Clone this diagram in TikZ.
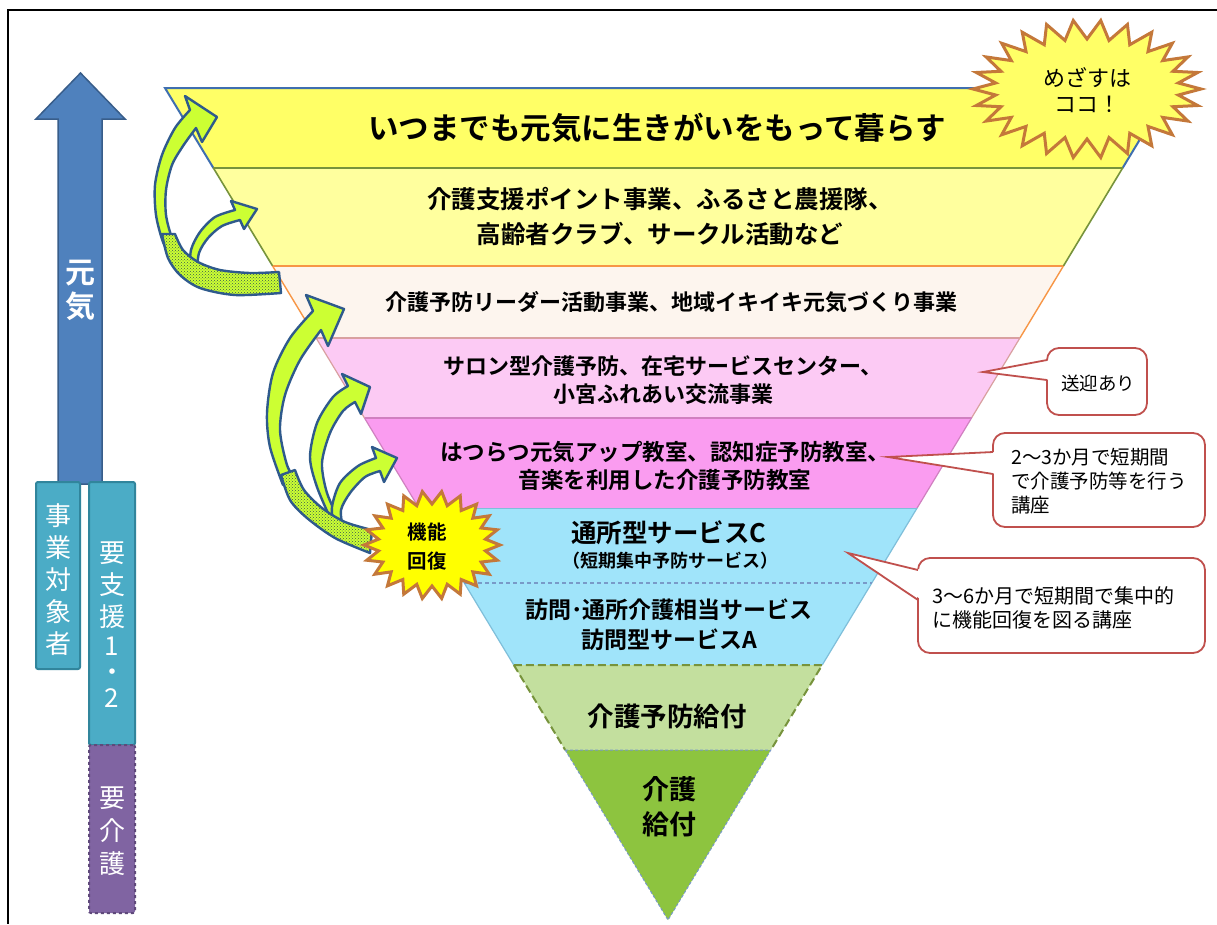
\documentclass[tikz,border=0pt]{standalone}
\usepackage{fontspec}
\setmainfont{Noto Sans CJK JP}[BoldFont={Noto Sans CJK JP Bold}]
\usetikzlibrary{patterns,calc}
\definecolor{bandA}{HTML}{FFFF66}
\definecolor{bandB}{HTML}{FFFF9E}
\definecolor{bandC}{HTML}{FDF5EE}
\definecolor{bandD}{HTML}{FCCAF4}
\definecolor{bandE}{HTML}{FA9CF0}
\definecolor{bandF}{HTML}{A0E4FA}
\definecolor{bandG}{HTML}{C3DF9E}
\definecolor{bandH}{HTML}{8DC43F}
\definecolor{lnblue}{HTML}{3F6FB0}
\definecolor{lnolive}{HTML}{77933C}
\definecolor{lnorange}{HTML}{F79646}
\definecolor{lnpink}{HTML}{D9A0A0}
\definecolor{lnmag}{HTML}{D080C0}
\definecolor{lncyan}{HTML}{7FBFDA}
\definecolor{arrowblue}{HTML}{4F81BD}
\definecolor{arrowblueD}{HTML}{385D8A}
\definecolor{tealF}{HTML}{4BACC6}
\definecolor{tealD}{HTML}{31859C}
\definecolor{purpF}{HTML}{8064A2}
\definecolor{purpD}{HTML}{5F497A}
\definecolor{limeF}{HTML}{CCFF33}
\definecolor{limeD}{HTML}{2F5A8C}
\definecolor{dotcol}{HTML}{3A5A50}
\definecolor{burstD}{HTML}{C4783A}
\definecolor{burstA}{HTML}{FFFF66}
\definecolor{burstB}{HTML}{FFFF00}
\definecolor{callred}{HTML}{C0504D}
\begin{document}
\begin{tikzpicture}[x=1pt,y=-1pt,
  bandtext/.style={font=\bfseries, align=center, text=black, inner sep=0},
  whitetext/.style={text=white, align=center, inner sep=0},
  callbox/.style={draw=callred, line width=1.8, fill=white, rounded corners=12},
  callline/.style={draw=callred, line width=1.8, line join=miter},
  calltext/.style={align=left, inner sep=0, anchor=west},
  garrow/.style={fill=limeF, draw=limeD, line width=2.4, line join=round},
  ribbon/.style={preaction={fill=limeF}, pattern=crosshatch dots, pattern color=dotcol, draw=limeD, line width=2.4, line join=round},
  tealbox/.style={fill=tealF, draw=tealD, line width=2, rounded corners=2, inner sep=0},
  purpbox/.style={fill=purpF, draw=purpD, line width=2, dashed, rounded corners=2, inner sep=0}
]
\useasboundingbox (0,0) rectangle (1217,924);
\fill[white] (0,0) rectangle (1217,924);
\draw[line width=2] (1217,10) -- (8,10) -- (8,924);

% ---------- left indicator ----------
\filldraw[fill=arrowblue, draw=arrowblueD, line width=1.5] (58,484) -- (58,119) -- (36,119) -- (80.5,73) -- (125,119) -- (102,119) -- (102,484) -- cycle;
\node[whitetext, font=\bfseries\fontsize{30}{34}\selectfont] (genki) at (80,290) {元\\気};
\node[tealbox, minimum width=44, minimum height=187] (jigyo) at (58,575.5) {};
\node[tealbox, minimum width=46, minimum height=263] (yoshien) at (112,613.5) {};
\node[purpbox, minimum width=46, minimum height=168] (yokaigo) at (112,829) {};
\node[whitetext, font=\fontsize{26}{32}\selectfont] (jigyoT) at (58,580) {事\\業\\対\\象\\者};
\node[whitetext, font=\fontsize{26}{32}\selectfont] (yoshienT) at (112,625) {要\\支\\援\\[-3pt]1\\[-6pt]・\\[-6pt]2};
\node[whitetext, font=\fontsize{26}{33}\selectfont] (yokaigoT) at (112,831) {要\\介\\護};

% ---------- pyramid bands ----------
\fill[bandA] (165,88) -- (1171,88) -- (1122.6,168) -- (213.4,168) -- cycle;
\fill[bandB] (213.4,168) -- (1122.6,168) -- (1063.4,266) -- (272.6,266) -- cycle;
\fill[bandC] (272.6,266) -- (1063.4,266) -- (1019.9,338) -- (316.1,338) -- cycle;
\fill[bandD] (316.1,338) -- (1019.9,338) -- (971.5,418) -- (364.5,418) -- cycle;
\fill[bandE] (364.5,418) -- (971.5,418) -- (917.1,508) -- (418.9,508) -- cycle;
\fill[bandF] (418.9,508) -- (917.1,508) -- (822.2,665) -- (513.8,665) -- cycle;
\fill[bandG] (513.8,665) -- (822.2,665) -- (770.8,750) -- (565.2,750) -- cycle;
\fill[bandH] (565.2,750) -- (770.8,750) -- (668,920) -- cycle;

% band borders
\draw[lnblue, line width=2] (213.4,168) -- (165,88) -- (1171,88) -- (1122.6,168);
\draw[lnolive, line width=2] (213.4,168) -- (1122.6,168);
\draw[lnolive, line width=1.6] (213.4,168) -- (272.6,266) (1122.6,168) -- (1063.4,266);
\draw[lnorange, line width=1.6] (272.6,266) -- (1063.4,266);
\draw[lnorange, line width=1.4] (272.6,266) -- (316.1,338) (1063.4,266) -- (1019.9,338);
\draw[lnpink, line width=1.2] (316.1,338) -- (1019.9,338);
\draw[lnpink, line width=1.2] (316.1,338) -- (364.5,418) (1019.9,338) -- (971.5,418);
\draw[lnmag, line width=1.2] (364.5,418) -- (971.5,418);
\draw[lnmag, line width=1.2] (364.5,418) -- (418.9,508) (971.5,418) -- (917.1,508);
\draw[lncyan, line width=1] (418.9,508) -- (917.1,508);
\draw[lncyan, line width=1.2] (418.9,508) -- (513.8,665) (917.1,508) -- (822.2,665);
\draw[lnblue!70, line width=1.2, dash pattern=on 4pt off 3pt] (464.3,583) -- (871.7,583);
\draw[lnolive, line width=2, dash pattern=on 8pt off 4pt] (513.8,665) -- (822.2,665) -- (770.8,750) (513.8,665) -- (565.2,750);
\draw[lnblue!70, line width=1, dash pattern=on 3pt off 2pt] (565.2,750) -- (770.8,750) -- (668,920) -- cycle;

% band texts
\node[bandtext, font=\bfseries\fontsize{30.5}{36}\selectfont] (t1) at (657,128) {いつまでも元気に生きがいをもって暮らす};
\node[bandtext, font=\bfseries\fontsize{24.5}{35}\selectfont] (t2) at (660,217) {介護支援ポイント事業、ふるさと農援隊、\\高齢者クラブ、サークル活動など};
\node[bandtext, font=\bfseries\fontsize{22}{28}\selectfont] (t3) at (671,302) {介護予防リーダー活動事業、地域イキイキ元気づくり事業};
\node[bandtext, font=\bfseries\fontsize{22}{28}\selectfont] (t4) at (663,380) {サロン型介護予防、在宅サービスセンター、\\小宮ふれあい交流事業};
\node[bandtext, font=\bfseries\fontsize{22.5}{28}\selectfont] (t5) at (665,466) {はつらつ元気アップ教室、認知症予防教室、\\音楽を利用した介護予防教室};
\node[bandtext, font=\bfseries\fontsize{25.5}{30}\selectfont] (t6a) at (669,533) {通所型サービスC};
\node[bandtext, font=\bfseries\fontsize{18}{22}\selectfont] (t6b) at (670,561) {（短期集中予防サービス）};
\node[bandtext, font=\bfseries\fontsize{23}{30}\selectfont] (t6c) at (669,625) {訪問･通所介護相当サービス\\訪問型サービスA};
\node[bandtext, font=\bfseries\fontsize{26.5}{32}\selectfont] (t7) at (667,716) {介護予防給付};
\node[bandtext, font=\bfseries\fontsize{27}{35}\selectfont] (t8) at (669,807) {介護\\給付};

% ---------- green curved arrows, group 1 ----------
\filldraw[garrow] plot[smooth] coordinates {(172,258) (163,242) (156,215) (155,185) (162,155) (175,128) (190,110)} -- (185,96) -- (217,117) -- (202,142) -- plot[smooth] coordinates {(196,128) (183,146) (172,165) (166,190) (166,215) (172,238) (180,252)} -- cycle;
\filldraw[garrow] plot[smooth] coordinates {(190,272) (191,250) (200,232) (215,217) (235,210)} -- (231,201) -- (257,209) -- (244,229) -- plot[smooth] coordinates {(240,220) (222,226) (208,238) (199,253) (197,272)} -- cycle;
\filldraw[ribbon] plot[smooth] coordinates {(162,234) (168,258) (180,275) (200,288) (235,295) (281,293)} -- (279,272) -- plot[smooth] coordinates {(279,272) (250,273) (220,270) (198,262) (183,250) (175,234)} -- cycle;

% ---------- green curved arrows, group 2 ----------
\filldraw[garrow] plot[smooth] coordinates {(283,485) (270,447) (267,413) (273,373) (290,338) (313,311)} -- (306,295) -- (344,309) -- (328,346) -- plot[smooth] coordinates {(321,330) (300,360) (285,395) (280,430) (287,465) (296,480)} -- cycle;
\filldraw[garrow] plot[smooth] coordinates {(332,522) (317,487) (310,457) (317,423) (333,397) (348,386)} -- (342,374) -- (370,387) -- (361,414) -- plot[smooth] coordinates {(355,402) (343,411) (330,433) (322,463) (327,493) (340,522)} -- cycle;
\filldraw[garrow] plot[smooth] coordinates {(334,528) (332,507) (340,483) (358,466) (376,458)} -- (372,447) -- (397,458) -- (384,482) -- plot[smooth] coordinates {(380,471) (365,477) (350,493) (341,510) (343,528)} -- cycle;
\filldraw[ribbon] plot[smooth] coordinates {(281,475) (290,500) (307,518) (335,538) (370,553)} -- (372,530) -- plot[smooth] coordinates {(372,530) (345,522) (322,508) (304,490) (295,470)} -- cycle;

% ---------- starbursts ----------
\filldraw[fill=burstA, draw=burstD, line width=3] ({1087+114},89) \foreach \i in {1,...,51} { -- ({1087+ifthenelse(mod(\i,2)==0,114,92)*cos(\i*6.923077)}, {89+ifthenelse(mod(\i,2)==0,69,50)*sin(\i*6.923077)}) } -- cycle;
\node[align=center, inner sep=0, font=\fontsize{22}{26}\selectfont] (mezasu) at (1087,90) {めざすは\\ココ！};

\filldraw[fill=burstB, draw=burstD, line width=3] ({432+68},545) \foreach \i in {1,...,43} { -- ({432+ifthenelse(mod(\i,2)==0,68,54)*cos(\i*8.181818)}, {545+ifthenelse(mod(\i,2)==0,54,41)*sin(\i*8.181818)}) } -- cycle;
\node[bandtext, font=\bfseries\fontsize{19.5}{29}\selectfont] (kino) at (427,547) {機能\\回復};

% ---------- callouts ----------
\node[callbox, minimum width=100, minimum height=67] (call1) at (1097,381.5) {};
\coordinate (c1tip) at (983,372);
\fill[white] (1051,360) -- (c1tip) -- (1051,380) -- cycle;
\draw[callline] (1047,360) -- (c1tip) -- (1047,380);
\node[inner sep=0, font=\fontsize{18.5}{22}\selectfont] (call1T) at (1098,383) {送迎あり};

\node[callbox, minimum width=212, minimum height=94] (call2) at (1099,480) {};
\coordinate (c2tip) at (888,457);
\fill[white] (997,452) -- (c2tip) -- (997,474) -- cycle;
\draw[callline] (993,452) -- (c2tip) -- (993,474);
\node[calltext, font=\fontsize{19.5}{24}\selectfont] (call2T) at (1011,481) {2～3か月で短期間\\で介護予防等を行う\\講座};

\node[callbox, minimum width=287, minimum height=95] (call3) at (1061.5,605.5) {};
\coordinate (c3tip) at (848,553);
\fill[white] (922,570) -- (c3tip) -- (922,600) -- cycle;
\draw[callline] (918,570) -- (c3tip) -- (918,600);
\node[calltext, font=\fontsize{20}{24}\selectfont] (call3T) at (932,608) {3～6か月で短期間で集中的\\に機能回復を図る講座};
\end{tikzpicture}
\end{document}
